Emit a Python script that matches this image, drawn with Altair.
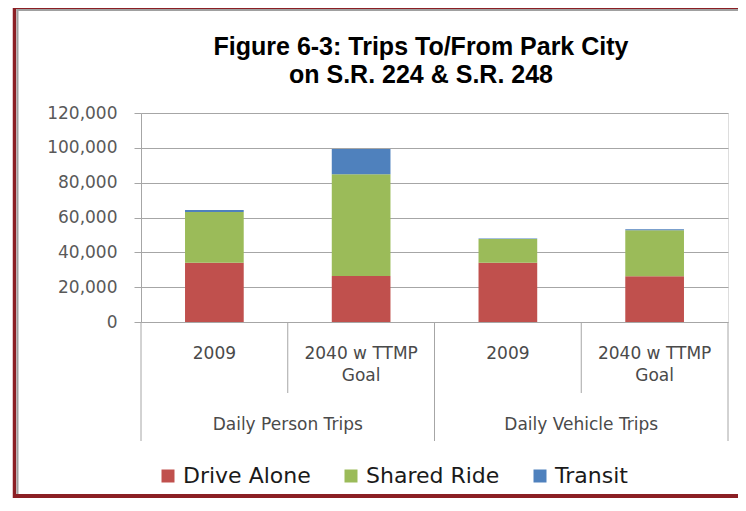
import altair as alt
import pandas as pd

# ---- data ----
title_lines = ["Figure 6-3: Trips To/From Park City", "on S.R. 224 & S.R. 248"]
groups = ["Daily Person Trips", "Daily Person Trips", "Daily Vehicle Trips", "Daily Vehicle Trips"]
labels = ["2009", "2040 w TTMP\nGoal", "2009", "2040 w TTMP\nGoal"]
series = ["Drive Alone", "Shared Ride", "Transit"]
drive_alone = [34000, 26400, 34000, 26200]
shared_ride = [29150, 58400, 13650, 26450]
transit = [1150, 14500, 350, 550]
y_ticks = [0, 20000, 40000, 60000, 80000, 100000, 120000]
colors = ["#C0504D", "#9BBB59", "#4F81BD"]

keys = [f"{g}|{i}" for i, g in enumerate(groups)]
rows = []
for k, vals in zip(keys, zip(drive_alone, shared_ride, transit)):
    for si, (s, v) in enumerate(zip(series, vals)):
        rows.append({"key": k, "series": s, "ord": si, "value": v})
df = pd.DataFrame(rows)

cat_df = pd.DataFrame({
    "key": keys,
    "label": labels,
    "group": groups,
    "first": [i == 0 or groups[i] != groups[i - 1] for i in range(len(groups))],
    "last": [i == len(groups) - 1 for i in range(len(groups))],
})

GRID = "#A6A6A6"
xscale = alt.Scale(domain=keys, paddingInner=0, paddingOuter=0)

bars = alt.Chart(df).mark_bar(width=alt.RelativeBandSize(0.4)).encode(
    x=alt.X("key:N", scale=xscale, axis=None),
    y=alt.Y("value:Q", stack="zero",
            scale=alt.Scale(domain=[0, 120000], nice=False),
            axis=alt.Axis(values=y_ticks, format=",.0f", title=None, grid=True,
                          gridColor=GRID, domainColor=GRID, tickColor=GRID,
                          tickSize=7, labelPadding=17, labelFont="DejaVu Sans",
                          labelFontSize=17, labelColor="#595959")),
    color=alt.Color("series:N", scale=alt.Scale(domain=series, range=colors),
                    legend=alt.Legend(orient="none", legendX=16, legendY=352,
                                      direction="horizontal", title=None,
                                      symbolType="square", symbolSize=169,
                                      symbolStrokeWidth=0, symbolOpacity=1,
                                      labelFont="DejaVu Sans", labelFontSize=22,
                                      labelColor="#1A1A1A", labelOffset=4,
                                      columnPadding=29, padding=0)),
    order=alt.Order("ord:Q", sort="ascending"),
)

inner_sep = alt.Chart(cat_df).transform_filter("!datum.first").mark_rule(color=GRID).encode(
    x=alt.X("key:N", scale=xscale, axis=None, bandPosition=0),
    y=alt.value(209), y2=alt.value(280),
)
outer_sep = alt.Chart(cat_df).transform_filter("datum.first").mark_rule(color=GRID).encode(
    x=alt.X("key:N", scale=xscale, axis=None, bandPosition=0),
    y=alt.value(209), y2=alt.value(328),
)
end_sep = alt.Chart(cat_df).transform_filter("datum.last").mark_rule(color=GRID).encode(
    x=alt.X("key:N", scale=xscale, axis=None, bandPosition=1),
    y=alt.value(209), y2=alt.value(328),
)

cat_text = alt.Chart(cat_df).mark_text(
    lineBreak="\n", font="DejaVu Sans", fontSize=17, color="#4A4A4A",
    baseline="top", lineHeight=22,
).encode(
    x=alt.X("key:N", scale=xscale, axis=None),
    y=alt.value(233),
    text="label:N",
)

group_text = alt.Chart(cat_df).transform_filter("!datum.first").mark_text(
    font="DejaVu Sans", fontSize=17, color="#4A4A4A", baseline="middle",
).encode(
    x=alt.X("key:N", scale=xscale, axis=None, bandPosition=0),
    y=alt.value(312),
    text="group:N",
)

title_df = pd.DataFrame({"t": ["\n".join(title_lines)]})
title_text = alt.Chart(title_df).mark_text(
    lineBreak="\n", font="Liberation Sans", fontSize=25, fontWeight="bold",
    color="#000000", baseline="top", lineHeight=28, align="center",
).encode(
    x=alt.value(280), y=alt.value(-78), text="t:N",
)

one = pd.DataFrame({"f": [0]})
frame_red_left = alt.Chart(one).mark_rule(color="#8B1F24", strokeWidth=3.5).encode(
    x=alt.value(-126.5), y=alt.value(-106), y2=alt.value(400))
frame_red_top = alt.Chart(one).mark_rule(color="#8B1F24", strokeWidth=4).encode(
    x=alt.value(-128), x2=alt.value(700), y=alt.value(-106))
frame_red_bottom = alt.Chart(one).mark_rule(color="#8B1F24", strokeWidth=4).encode(
    x=alt.value(-128), x2=alt.value(700), y=alt.value(383))
frame_grey_left = alt.Chart(one).mark_rule(color="#A0A0A0", strokeWidth=2).encode(
    x=alt.value(-123.5), y=alt.value(-104), y2=alt.value(381))
frame_grey_top = alt.Chart(one).mark_rule(color="#A0A0A0", strokeWidth=2).encode(
    x=alt.value(-124.5), x2=alt.value(700), y=alt.value(-103))

chart = alt.layer(
    frame_red_left, frame_red_top, frame_red_bottom, frame_grey_left, frame_grey_top,
    bars, inner_sep, outer_sep, end_sep, cat_text, group_text, title_text,
).properties(
    width=587, height=209,
    padding={"left": 133, "top": 105, "right": 10, "bottom": 176},
    autosize=alt.AutoSizeParams(type="none"),
).configure_view(stroke=None).configure(background="white")

chart.save("out.html", embed_options={"renderer": "svg", "actions": False})
